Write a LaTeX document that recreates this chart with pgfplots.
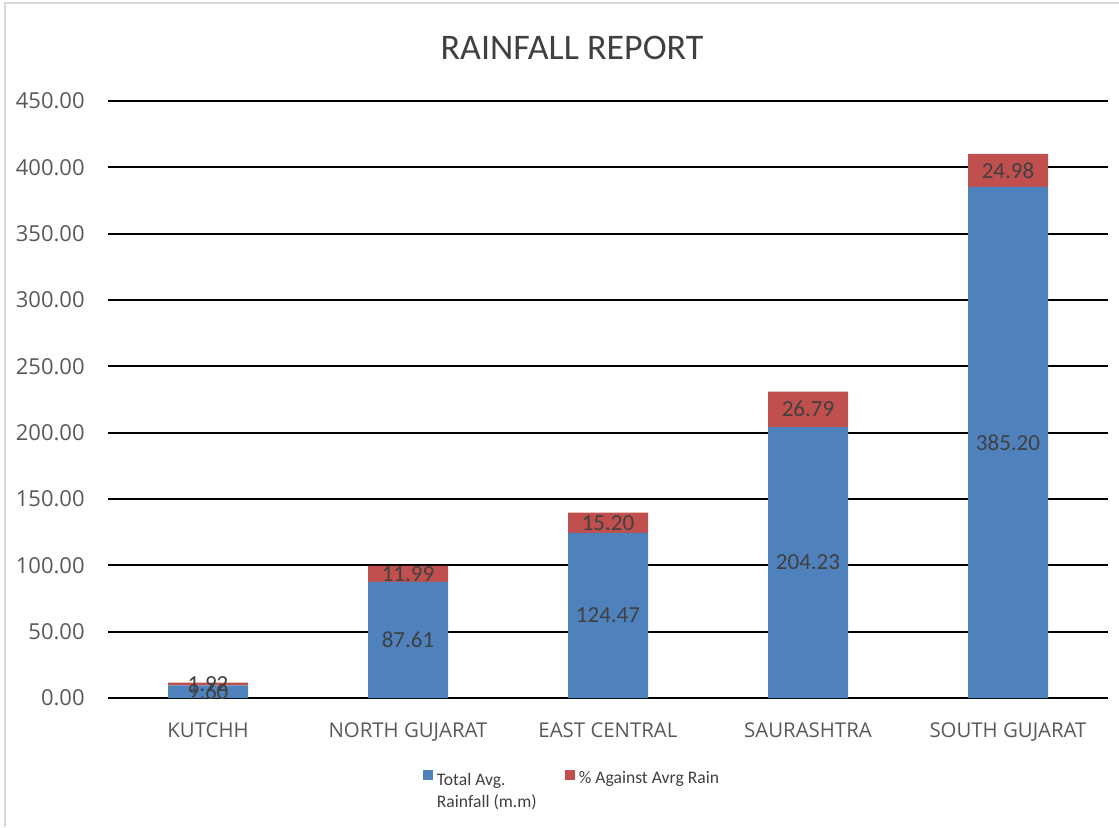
\documentclass[border=0pt]{standalone}
\usepackage{pgfplots}
\usepackage{pgfplotstable}
\pgfplotsset{compat=1.18}
\usepackage{fontspec}
\setmainfont{Open Sans}
\newfontfamily\calfont{Carlito}
\definecolor{bblue}{HTML}{4F81BD}
\definecolor{rred}{HTML}{C0504D}
\definecolor{txt}{HTML}{404040}
\definecolor{ticktxt}{HTML}{595959}
\definecolor{bordergray}{HTML}{D9D9D9}

\pgfplotstableread{
x v
0 9.60
1 87.61
2 124.47
3 204.23
4 385.20
}\totaldata
\pgfplotstableread{
x v
0 1.92
1 11.99
2 15.20
3 26.79
4 24.98
}\pctdata

\begin{document}
\begin{tikzpicture}
\path[use as bounding box] (0,0) rectangle (559.5pt,413.5pt);
\draw[bordergray, line width=0.75pt] (2.5pt,0) -- (2.5pt,412pt) -- (559.5pt,412pt);
\node[text=txt, inner sep=0pt] at (286pt,389.3pt) {\calfont\fontsize{18}{21}\selectfont RAINFALL REPORT};
\begin{axis}[
  at={(54pt,64.5pt)}, anchor=south west,
  scale only axis, width=500pt, height=298.5pt,
  ybar stacked, bar width=40pt,
  xmin=-0.5, xmax=4.5, ymin=0, ymax=450,
  xtick={0,1,2,3,4},
  xticklabels={KUTCHH, NORTH GUJARAT, EAST CENTRAL, SAURASHTRA, SOUTH GUJARAT},
  ytick={50,100,...,450},
  extra y ticks={0},
  extra y tick style={grid style={color=bordergray, line width=0.75pt}},
  ymajorgrids,
  major grid style={black, line width=1pt},
  axis line style={draw=none},
  major tick length=0pt,
  tick label style={font=\fontsize{11}{13}\selectfont, text=ticktxt, inner sep=0pt},
  yticklabel style={anchor=east, xshift=-11.5pt,
    /pgf/number format/.cd, fixed, fixed zerofill, precision=2, assume math mode=true},
  xticklabel style={anchor=north, yshift=-12pt, font=\fontsize{10.2}{12}\selectfont},
  nodes near coords,
  point meta=explicit,
  every node near coord/.append style={anchor=center, text=txt,
    font=\calfont\fontsize{11.5}{13}\selectfont,
    /pgf/number format/.cd, fixed, fixed zerofill, precision=2, assume math mode=true},
  legend style={at={(axis description cs:0.465,-0.113)}, anchor=north, draw=none,
    legend columns=2, font=\calfont\fontsize{8.8}{11}\selectfont, text=txt,
    /tikz/every even column/.append style={column sep=12pt},
    cells={anchor=west}, inner sep=0pt},
  legend image code/.code={\fill[#1] (0pt,-0.3pt) rectangle (5pt,4.7pt);},
]
\addplot[fill=bblue, draw=none] table[x=x, y=v, meta=v] {\totaldata};
\addplot[fill=rred, draw=none] table[x=x, y=v, meta=v] {\pctdata};
\legend{\begin{tabular}[t]{@{}l@{}}Total Avg.\\Rainfall (m.m)\end{tabular}, \% Against Avrg Rain}
\end{axis}
\end{tikzpicture}
\end{document}
